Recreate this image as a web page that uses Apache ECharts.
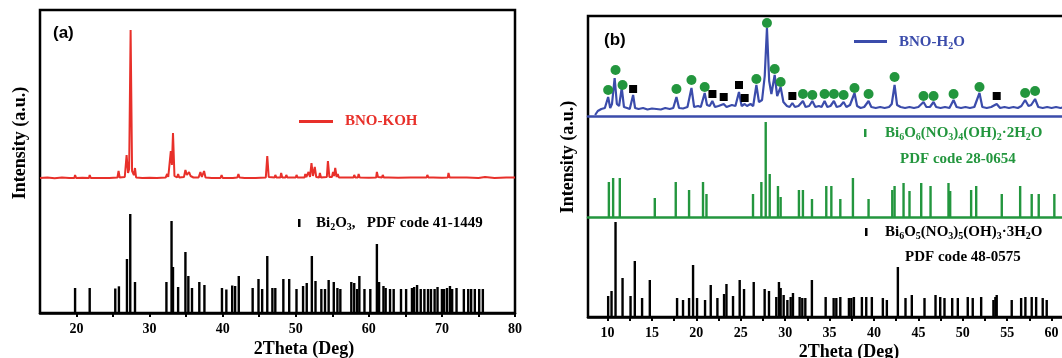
<!DOCTYPE html>
<html>
<head>
<meta charset="utf-8">
<script src="https://cdn.jsdelivr.net/npm/echarts@6/dist/echarts.min.js"></script>
<style>
  html, body { margin: 0; padding: 0; background: #fff; }
  #chart { width: 1062px; height: 358px; }
</style>
</head>
<body>
<div id="chart"></div>
<script>
// (a) BNO-KOH measured pattern, [2theta, intensity above its baseline]
const kohTrace = [
  [15, 1], [16, 1.5], [17, 0.8], [18, 1.5], [19, 1], [19.7, 1], [19.8, 4], [19.95, 1], [20.8, 1.2],
  [21.7, 1], [21.8, 4], [21.95, 1], [23, 1], [24.5, 1], [24.6, 3], [24.75, 1], [25.6, 1.5], [25.75, 8],
  [25.9, 1.5], [26.6, 2], [26.85, 24], [27.05, 6], [27.2, 10], [27.4, 149], [27.6, 8], [27.85, 4],
  [28.0, 11], [28.15, 1.5], [29, 1], [30, 1.2], [31, 1], [32.2, 1.5], [32.4, 5], [32.55, 2], [32.9, 28],
  [33.05, 14], [33.2, 46], [33.4, 3], [33.75, 1.5], [33.9, 5], [34.05, 1.5], [34.7, 2], [34.9, 9],
  [35.1, 4], [35.4, 7], [35.6, 3], [35.8, 5], [36.0, 1.5], [36.7, 1.5], [36.95, 7], [37.15, 2],
  [37.45, 8], [37.65, 1.5], [38.5, 1], [39.7, 1], [39.85, 4], [40, 1], [41.1, 1], [41.25, 3], [41.4, 1],
  [42.0, 1.5], [42.15, 5], [42.3, 1.5], [43, 1], [44.5, 1], [44.6, 3], [44.7, 1], [45.9, 1.5], [46.1, 23],
  [46.3, 2], [47.1, 1.5], [47.2, 4], [47.35, 1.5], [47.9, 1.5], [48.0, 6], [48.15, 1.5], [48.6, 1.5],
  [48.7, 4], [48.85, 1.5], [50.0, 1.5], [50.1, 4], [50.25, 1.5], [51.2, 1.5], [51.3, 5], [51.45, 2],
  [51.6, 2], [51.75, 7], [51.95, 2], [52.15, 16], [52.35, 3], [52.5, 3], [52.6, 12], [52.8, 2],
  [53.2, 1.5], [53.3, 6], [53.45, 1.5], [54.25, 2], [54.4, 18], [54.6, 2], [54.95, 2], [55.1, 7],
  [55.25, 3], [55.4, 11], [55.6, 2], [55.75, 5], [55.9, 1.5], [57.3, 1.5], [57.4, 3], [57.5, 1.5],
  [57.9, 1.5], [58.0, 4], [58.15, 1.5], [58.5, 1.5], [58.6, 5], [58.75, 1.5], [60, 1.2], [61.0, 1.5],
  [61.1, 7], [61.25, 2], [61.8, 1.5], [61.9, 4], [62.05, 1.5], [62.7, 1.5], [62.8, 3], [62.95, 1.5],
  [64, 1.2], [65.7, 1.5], [65.8, 3], [65.95, 1.5], [66.8, 1.5], [66.9, 3], [67.05, 1.5], [67.9, 1.5],
  [68.0, 4], [68.15, 1.5], [68.8, 1.5], [68.9, 3], [69.05, 1.5], [70.0, 1.2], [70.8, 1.5], [70.9, 6],
  [71.05, 1.5], [71.6, 1.5], [71.7, 3], [71.85, 1.5], [72.7, 1.5], [72.8, 3], [72.95, 1.5], [73.4, 1.5],
  [73.5, 3], [73.65, 1.5], [75, 1], [75.9, 2], [76.05, 1], [77.2, 1], [77.3, 2], [77.45, 1], [78.8, 1.5],
  [78.9, 3], [79.05, 1.5], [80, 1.5]
];

// (a) Bi2O3 PDF 41-1449 reference lines, [2theta, relative intensity]
const bi2o3Lines = [
  [19.8, 25], [21.8, 25], [25.3, 24.5], [25.8, 26.7], [26.9, 54], [27.35, 99], [28.0, 31], [32.3, 31],
  [33.0, 92], [33.2, 46], [33.9, 26], [34.9, 61], [35.3, 37], [35.8, 25], [36.8, 31], [37.5, 28],
  [39.9, 25], [40.5, 23.5], [41.3, 27.5], [41.7, 27], [42.2, 37], [44.1, 25], [44.9, 34], [45.4, 24],
  [46.1, 57], [46.8, 25], [47.2, 25], [48.3, 34], [49.1, 34], [50.1, 24], [51.0, 27], [51.5, 30],
  [52.2, 57], [52.7, 32], [53.5, 24], [54.0, 24], [54.5, 33], [55.2, 31], [55.7, 25], [56.1, 24],
  [57.6, 31], [58.0, 30], [58.4, 24], [58.7, 37], [59.4, 24], [60.2, 24], [61.1, 69], [61.4, 31],
  [62.0, 27], [62.3, 25], [62.9, 24], [63.4, 24], [64.4, 24], [65.1, 24], [65.9, 25], [66.2, 26],
  [66.6, 28], [67.1, 24], [67.6, 24], [68.1, 24], [68.5, 24], [69.0, 24], [69.4, 26], [70.0, 24],
  [70.3, 24], [70.7, 25], [71.1, 27], [71.4, 24], [72.0, 25], [73.0, 24], [73.6, 24], [74.0, 24],
  [74.5, 24], [75.1, 24], [75.6, 24]
];

// (b) BNO-H2O measured pattern
const h2oTrace = [
  [8.6, 1], [8.9, 5], [9.1, 4], [9.3, 7], [9.5, 5], [9.7, 8], [9.9, 7], [10.07, 19], [10.3, 8], [10.5, 12],
  [10.8, 38], [11.05, 12], [11.3, 10], [11.6, 28], [11.85, 9], [12.2, 8], [12.5, 7], [12.88, 21], [13.1, 8],
  [13.5, 7], [14, 8], [14.5, 6.5], [15, 7.5], [15.5, 7], [16, 6.5], [16.5, 8], [17, 7], [17.4, 8],
  [17.76, 19], [18.05, 8], [18.5, 7.5], [19.0, 9], [19.45, 28], [19.75, 9], [20.2, 10], [20.5, 9],
  [20.94, 23], [21.2, 11], [21.5, 10], [21.8, 15], [22.1, 9], [22.5, 10], [23.08, 12], [23.4, 9],
  [24.0, 11], [24.4, 10], [24.8, 24], [25.1, 10], [25.44, 12], [25.7, 10], [26.1, 12], [26.4, 10],
  [26.76, 31], [27.05, 14], [27.4, 16], [27.7, 40], [27.95, 88], [28.2, 35], [28.45, 22], [28.82, 41],
  [29.1, 20], [29.49, 29], [29.8, 14], [30.2, 10], [30.5, 9], [30.81, 13], [31.1, 9], [31.5, 10],
  [32.0, 15], [32.3, 9], [32.7, 10], [33.06, 15], [33.4, 9], [33.8, 10], [34.1, 9], [34.44, 15],
  [34.75, 9], [35.1, 10], [35.49, 15], [35.8, 9], [36.2, 10], [36.58, 14], [36.9, 9], [37.3, 11],
  [37.81, 23], [38.1, 10], [38.5, 8], [38.9, 9], [39.39, 15], [39.7, 9], [40.2, 8], [40.7, 9], [41.2, 8],
  [41.7, 9], [42.0, 12], [42.32, 31], [42.6, 11], [43.0, 9], [43.5, 8], [44.0, 9], [44.5, 8], [45.0, 9],
  [45.58, 14], [45.9, 9], [46.3, 9], [46.71, 14], [47.0, 9], [47.5, 8], [48.0, 9], [48.5, 8], [48.96, 16],
  [49.3, 9], [49.8, 8], [50.3, 9], [50.8, 8], [51.3, 9], [51.88, 23], [52.2, 9], [52.7, 8], [53.2, 9],
  [53.82, 12], [54.2, 8], [54.7, 9], [55.2, 8], [55.7, 9], [56.2, 8], [56.6, 10], [57.02, 16], [57.4, 10],
  [57.7, 11], [58.14, 17], [58.5, 9], [59.0, 8], [59.5, 9], [60.0, 8], [60.5, 9], [61.0, 8], [61.5, 9],
  [62, 8], [63, 9], [64, 8], [65, 8]
];

// (b) peak markers above the trace
const dotPeaks = [
  [10.07, 26], [10.9, 46], [11.69, 31], [17.76, 27], [19.45, 36], [20.94, 29], [26.76, 37], [27.95, 93],
  [28.82, 47], [29.49, 34], [32.0, 22], [33.06, 21], [34.44, 22], [35.49, 22], [36.58, 21], [37.81, 28],
  [39.39, 22], [42.32, 39], [45.58, 20], [46.71, 20], [48.96, 22], [51.88, 29], [57.02, 23], [58.14, 25]
];
const squarePeaks = [
  [12.88, 27], [21.81, 22], [23.08, 19], [24.8, 31], [25.44, 18], [30.81, 20], [53.82, 20]
];

// (b) Bi6O6(NO3)4(OH)2·2H2O PDF 28-0654
const pdf280654 = [
  [10.15, 35], [10.63, 39], [11.38, 39], [15.32, 19], [17.68, 35], [19.18, 27], [20.75, 35], [21.14, 23],
  [26.38, 23], [27.32, 35], [27.81, 95], [28.26, 43], [29.19, 31], [29.49, 20], [31.55, 27], [32.0, 27],
  [33.02, 18], [34.63, 31], [35.2, 31], [36.21, 18], [37.63, 39], [39.39, 18], [42.06, 27], [42.32, 31],
  [43.33, 34], [44.0, 26], [45.32, 34], [46.37, 31], [48.39, 34], [48.58, 26], [50.94, 27], [51.51, 31],
  [54.39, 23], [56.46, 31], [57.76, 23], [58.55, 23], [60.31, 23]
];

// (b) Bi6O5(NO3)5(OH)3·3H2O PDF 48-0575
const pdf480575 = [
  [10.07, 21], [10.45, 26], [10.9, 95], [11.69, 39], [12.59, 21], [13.07, 56], [13.89, 19], [14.76, 37],
  [17.83, 19], [18.5, 17], [19.18, 19], [19.63, 52], [20.08, 19], [20.98, 17], [21.62, 32], [22.37, 19],
  [23.12, 23], [23.39, 33], [24.13, 21], [24.88, 37], [25.37, 28], [26.46, 35], [27.69, 28], [28.18, 26],
  [29.0, 20], [29.3, 35], [29.49, 29], [29.83, 22], [30.25, 17], [30.62, 20], [30.88, 24], [31.63, 20],
  [31.93, 19], [32.27, 19], [33.01, 37], [34.56, 20], [35.46, 19], [35.76, 19], [36.21, 20], [37.18, 19],
  [37.45, 19], [37.74, 20], [38.64, 20], [39.13, 20], [39.76, 20], [41.0, 19], [41.45, 17], [42.69, 50],
  [43.55, 19], [44.26, 22], [45.69, 19], [46.93, 22], [47.46, 20], [47.94, 19], [48.81, 19], [49.44, 19],
  [50.56, 20], [51.12, 19], [52.07, 20], [53.45, 17], [53.67, 20], [53.82, 22], [55.51, 17], [56.57, 19],
  [57.05, 20], [57.76, 20], [58.26, 20], [59.0, 19], [59.45, 17]
];

const ticksA = [20, 25, 30, 35, 40, 45, 50, 55, 60, 65, 70, 75, 80];
const labelsA = [20, 30, 40, 50, 60, 70, 80];
const ticksB = [10, 12.5, 15, 17.5, 20, 22.5, 25, 27.5, 30, 32.5, 35, 37.5, 40, 42.5, 45, 47.5, 50, 52.5, 55, 57.5, 60, 62.5];
const labelsB = [10, 15, 20, 25, 30, 35, 40, 45, 50, 55, 60];

const RED = "#e8302a";
const BLUE = "#3b4cab";
const GREEN = "#23963e";
const SERIF = "'Liberation Serif', 'DejaVu Serif', serif";

const chart = echarts.init(document.getElementById("chart"), null, { renderer: "canvas" });

const A = { left: 40, width: 475, min: 15, max: 80 };
const B = { left: 588, width: 508, min: 7.8, max: 65 };

function gridBox(p, top, height, frame) {
  const g = { left: p.left, width: p.width, top, height, outerBoundsMode: "none", containLabel: false };
  if (frame) Object.assign(g, { show: true, borderColor: "#000", borderWidth: 2.5, backgroundColor: "transparent" });
  return g;
}
function hiddenX(gridIndex, p, lineColor) {
  return {
    gridIndex, type: "value", min: p.min, max: p.max,
    axisLine: { show: !!lineColor, onZero: false, lineStyle: { color: lineColor || "#000", width: 2.5 } },
    axisTick: { show: false }, axisLabel: { show: false }, splitLine: { show: false },
  };
}
function frameX(gridIndex, p, ticks, labels) {
  return {
    gridIndex, type: "value", min: p.min, max: p.max,
    axisLine: { show: true, onZero: false, lineStyle: { color: "#000", width: 2.5 } },
    axisTick: { show: true, customValues: ticks, length: 4, lineStyle: { color: "#000", width: 2 } },
    axisLabel: {
      show: true, customValues: labels, margin: 9, color: "#000",
      fontSize: 14, fontWeight: "bold", fontFamily: SERIF,
    },
    splitLine: { show: false },
  };
}
function hiddenY(gridIndex, max) {
  return { gridIndex, type: "value", min: 0, max, show: false, splitLine: { show: false } };
}

function richText(x, y, text, color, size) {
  return {
    type: "text", x, y, z: 100,
    style: {
      text, fill: color, align: "left", verticalAlign: "middle",
      textAlign: "left", textVerticalAlign: "middle",
      font: `bold ${size}px ${SERIF}`,
      rich: {
        n: { fontSize: size, fontWeight: "bold", fontFamily: SERIF, fill: color, lineHeight: 18 },
        s: { fontSize: 10, fontWeight: "bold", fontFamily: SERIF, fill: color, lineHeight: 10, verticalAlign: "bottom" },
      },
    },
  };
}
function plainText(x, y, text, color, size, opts = {}) {
  return {
    type: "text", x, y, z: 100, rotation: opts.rotation || 0,
    style: {
      text, fill: color, align: opts.align || "left", verticalAlign: "middle",
      textAlign: opts.align || "left", textVerticalAlign: "middle",
      font: `bold ${size}px ${opts.family || SERIF}`,
    },
  };
}

chart.setOption({
  animation: false,
  backgroundColor: "#fff",
  grid: [
    gridBox(A, 10, 303, true),
    gridBox(A, 10, 169),
    gridBox(A, 213, 100),
    gridBox(B, 16, 301, true),
    gridBox(B, 16, 100),
    gridBox(B, 116, 101),
    gridBox(B, 217, 100),
  ],
  xAxis: [
    frameX(0, A, ticksA, labelsA),
    hiddenX(1, A),
    hiddenX(2, A),
    frameX(3, B, ticksB, labelsB),
    hiddenX(4, B, BLUE),
    hiddenX(5, B, GREEN),
    hiddenX(6, B),
  ],
  yAxis: [
    hiddenY(0, 303), hiddenY(1, 169), hiddenY(2, 100),
    hiddenY(3, 301), hiddenY(4, 100), hiddenY(5, 101), hiddenY(6, 100),
  ],
  series: [
    {
      name: "BNO-KOH", type: "line", xAxisIndex: 1, yAxisIndex: 1, data: kohTrace,
      showSymbol: false, lineStyle: { color: RED, width: 2 }, z: 3,
    },
    {
      name: "Bi2O3", type: "bar", xAxisIndex: 2, yAxisIndex: 2, data: bi2o3Lines,
      barWidth: 2.4, itemStyle: { color: "#000" },
    },
    {
      name: "BNO-H2O", type: "line", xAxisIndex: 4, yAxisIndex: 4, data: h2oTrace,
      showSymbol: false, lineStyle: { color: BLUE, width: 2.2 }, z: 3,
    },
    {
      name: "dots", type: "scatter", xAxisIndex: 4, yAxisIndex: 4, data: dotPeaks,
      symbol: "circle", symbolSize: 10, itemStyle: { color: GREEN, opacity: 1 }, z: 5,
    },
    {
      name: "squares", type: "scatter", xAxisIndex: 4, yAxisIndex: 4, data: squarePeaks,
      symbol: "rect", symbolSize: 8, itemStyle: { color: "#000", opacity: 1 }, z: 5,
    },
    {
      name: "28-0654", type: "bar", xAxisIndex: 5, yAxisIndex: 5, data: pdf280654,
      barWidth: 2.4, itemStyle: { color: GREEN },
    },
    {
      name: "48-0575", type: "bar", xAxisIndex: 6, yAxisIndex: 6, data: pdf480575,
      barWidth: 2.4, itemStyle: { color: "#000" },
    },
  ],
  graphic: [
    plainText(53, 33, "(a)", "#000", 17, { family: "'Liberation Sans', Arial, sans-serif" }),
    plainText(604, 40, "(b)", "#000", 17, { family: "'Liberation Sans', Arial, sans-serif" }),
    plainText(20, 143, "Intensity (a.u.)", "#000", 18, { rotation: Math.PI / 2, align: "center" }),
    plainText(568, 157, "Intensity (a.u.)", "#000", 18, { rotation: Math.PI / 2, align: "center" }),
    plainText(304, 349, "2Theta (Deg)", "#000", 18, { align: "center" }),
    plainText(849, 352, "2Theta (Deg)", "#000", 18, { align: "center" }),

    { type: "line", z: 100, shape: { x1: 299, y1: 121.5, x2: 333, y2: 121.5 }, style: { stroke: RED, lineWidth: 3 } },
    plainText(345, 121, "BNO-KOH", RED, 15),
    { type: "rect", z: 100, shape: { x: 298, y: 219, width: 2.5, height: 8 }, style: { fill: "#000" } },
    richText(316, 223, "{n|Bi}{s|2}{n|O}{s|3}{n|,   PDF code 41-1449}", "#000", 15),

    { type: "line", z: 100, shape: { x1: 854, y1: 41.5, x2: 887, y2: 41.5 }, style: { stroke: BLUE, lineWidth: 3 } },
    richText(899, 42, "{n|BNO-H}{s|2}{n|O}", BLUE, 15),
    { type: "rect", z: 100, shape: { x: 864, y: 129, width: 2.5, height: 8 }, style: { fill: GREEN } },
    richText(885, 133, "{n|Bi}{s|6}{n|O}{s|6}{n|(NO}{s|3}{n|)}{s|4}{n|(OH)}{s|2}{n|·2H}{s|2}{n|O}", GREEN, 15),
    plainText(900, 159, "PDF code 28-0654", GREEN, 15),
    { type: "rect", z: 100, shape: { x: 865, y: 228, width: 2.5, height: 8 }, style: { fill: "#000" } },
    richText(885, 232, "{n|Bi}{s|6}{n|O}{s|5}{n|(NO}{s|3}{n|)}{s|5}{n|(OH)}{s|3}{n|·3H}{s|2}{n|O}", "#000", 15),
    plainText(905, 257, "PDF code 48-0575", "#000", 15),
  ],
});
</script>
</body>
</html>
